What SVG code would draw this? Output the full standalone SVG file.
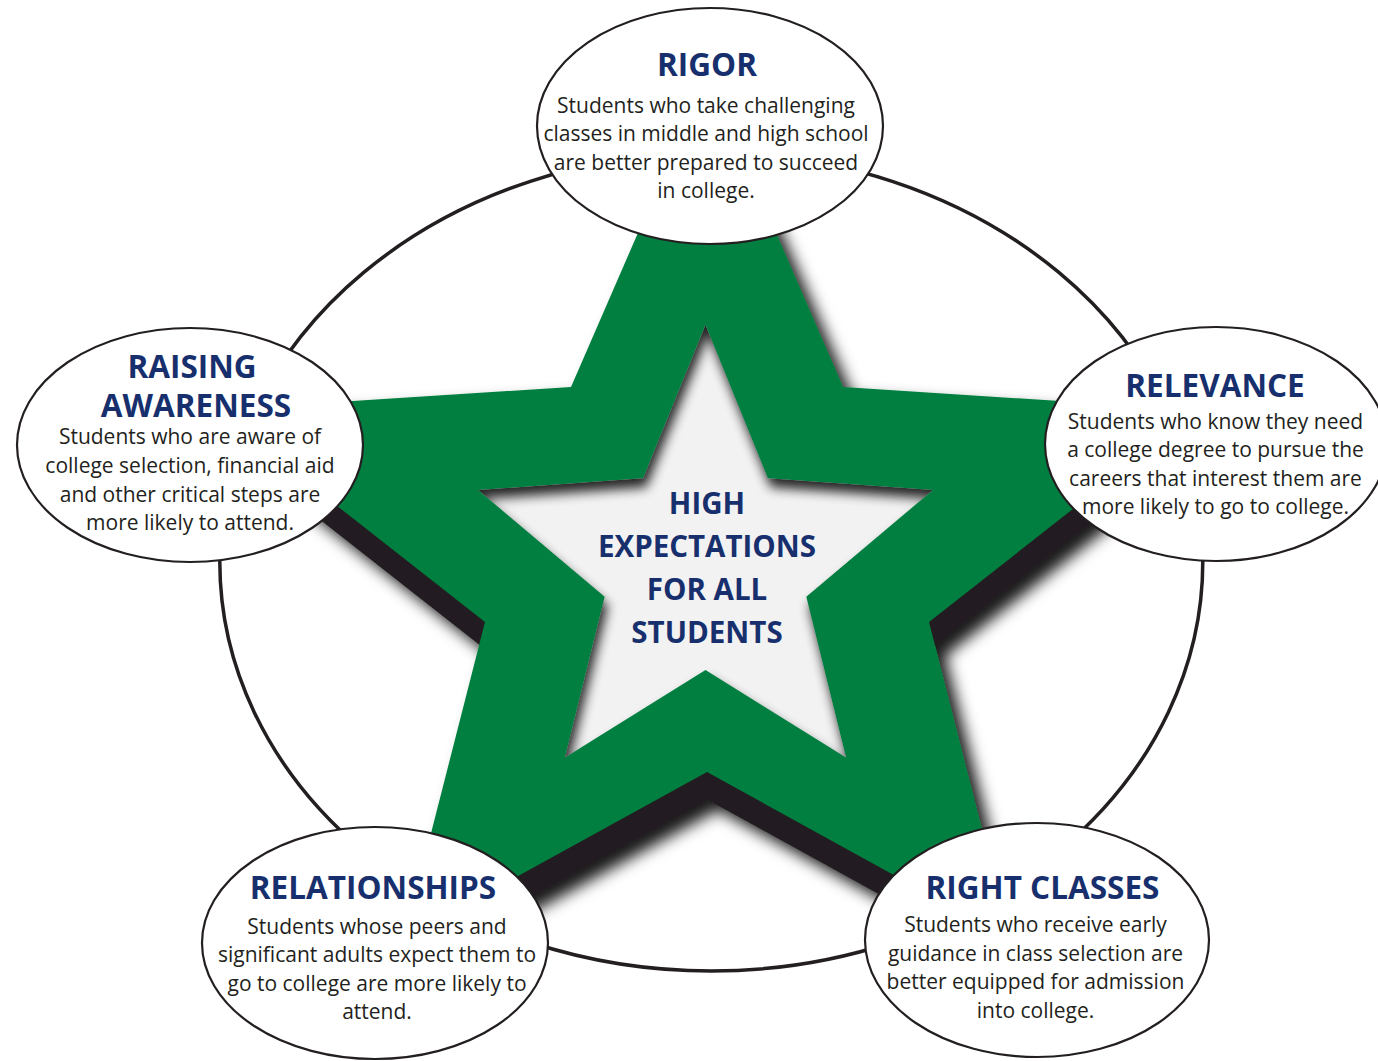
<svg xmlns="http://www.w3.org/2000/svg" width="1378" height="1061" viewBox="0 0 1378 1061">
  <style>
    .node { fill: #ffffff; stroke: #231f20; stroke-width: 2.2; }
    .ring { fill: none; stroke: #231f20; stroke-width: 3.5; }
    .title { font-family: "Open Sans", "Noto Sans", "Liberation Sans", sans-serif; font-weight: 700; font-size: 31.5px; fill: #17306d; text-anchor: middle; }
    .center { font-family: "Open Sans", "Noto Sans", "Liberation Sans", sans-serif; font-weight: 700; font-size: 29.5px; fill: #17306d; text-anchor: middle; }
    .body { font-family: "Open Sans", "Noto Sans", "Liberation Sans", sans-serif; font-size: 21px; fill: #231f20; text-anchor: middle; }
  </style>
  <defs>
    <filter id="soft" x="-10%" y="-10%" width="125%" height="125%">
      <feGaussianBlur in="SourceAlpha" stdDeviation="7.5"/>
      <feOffset dx="10" dy="10" result="b"/>
      <feFlood flood-color="#000" flood-opacity="0.9"/>
      <feComposite in2="b" operator="in"/>
      <feMerge><feMergeNode/><feMergeNode in="SourceGraphic"/></feMerge>
    </filter>
    <filter id="blur" x="-5%" y="-5%" width="110%" height="110%">
      <feGaussianBlur stdDeviation="6"/>
    </filter>
    <clipPath id="innerClip">
      <polygon points="705.5,325 767.8,478.2 932.8,490.1 806.3,596.8 846,757.4 705.5,670 565,757.4 604.7,596.8 478.2,490.1 643.2,478.2"/>
    </clipPath>
  </defs>

  <rect x="0" y="0" width="1378" height="1061" fill="#ffffff"/>

  <g id="connectors">
    <ellipse class="ring" cx="711.3" cy="561.8" rx="491.5" ry="409.2"/>
  </g>

  <g id="star">
    <g filter="url(#soft)">
      <polygon transform="translate(1,28)" fill="#231f20" points="707,74 843,387 1199,410 929,622 1010,939 707,772 404,939 485,622 215,410 571,387"/>
      <polygon fill="#007f3f" points="707,74 843,387 1199,410 929,622 1010,939 707,772 404,939 485,622 215,410 571,387"/>
    </g>
    <polygon fill="#f2f2f3" points="705.5,325 767.8,478.2 932.8,490.1 806.3,596.8 846,757.4 705.5,670 565,757.4 604.7,596.8 478.2,490.1 643.2,478.2"/>
    <g clip-path="url(#innerClip)">
      <path fill="#000" opacity="0.85" fill-rule="evenodd" filter="url(#blur)" transform="translate(3,9)" d="M300 200 H1100 V900 H300 Z M705.5,325 L767.8,478.2 L932.8,490.1 L806.3,596.8 L846,757.4 L705.5,670 L565,757.4 L604.7,596.8 L478.2,490.1 L643.2,478.2 Z"/>
    </g>
    <g id="center-label">
      <text class="center" x="707" y="514">HIGH</text>
      <text class="center" x="707" y="557">EXPECTATIONS</text>
      <text class="center" x="707" y="600">FOR ALL</text>
      <text class="center" x="707" y="643">STUDENTS</text>
    </g>
  </g>

  <g id="node-rigor">
    <ellipse class="node" cx="710" cy="126" rx="173" ry="118"/>
    <text class="title" x="707" y="76">RIGOR</text>
    <text class="body" x="706" y="112.5">Students who take challenging</text>
    <text class="body" x="706" y="141">classes in middle and high school</text>
    <text class="body" x="706" y="169.5">are better prepared to succeed</text>
    <text class="body" x="706" y="198">in college.</text>
  </g>

  <g id="node-raising-awareness">
    <ellipse class="node" cx="190" cy="445" rx="173" ry="117"/>
    <text class="title" x="192" y="378">RAISING</text>
    <text class="title" x="196" y="416.5">AWARENESS</text>
    <text class="body" x="190" y="444">Students who are aware of</text>
    <text class="body" x="190" y="473">college selection, financial aid</text>
    <text class="body" x="190" y="501.5">and other critical steps are</text>
    <text class="body" x="190" y="530">more likely to attend.</text>
  </g>

  <g id="node-relevance">
    <ellipse class="node" cx="1216" cy="444" rx="171" ry="117"/>
    <text class="title" x="1215" y="397">RELEVANCE</text>
    <text class="body" x="1215.5" y="428.5">Students who know they need</text>
    <text class="body" x="1215.5" y="457">a college degree to pursue the</text>
    <text class="body" x="1215.5" y="485.5">careers that interest them are</text>
    <text class="body" x="1215.5" y="514">more likely to go to college.</text>
  </g>

  <g id="node-relationships">
    <ellipse class="node" cx="375" cy="943" rx="173" ry="116"/>
    <text class="title" x="373" y="898.5">RELATIONSHIPS</text>
    <text class="body" x="377" y="933.5">Students whose peers and</text>
    <text class="body" x="377" y="962">significant adults expect them to</text>
    <text class="body" x="377" y="990.5">go to college are more likely to</text>
    <text class="body" x="377" y="1019">attend.</text>
  </g>

  <g id="node-right-classes">
    <ellipse class="node" cx="1037" cy="940" rx="172" ry="117"/>
    <text class="title" x="1042.5" y="898.5">RIGHT CLASSES</text>
    <text class="body" x="1035.5" y="931.5">Students who receive early</text>
    <text class="body" x="1035.5" y="960.5">guidance in class selection are</text>
    <text class="body" x="1035.5" y="989">better equipped for admission</text>
    <text class="body" x="1035.5" y="1017.5">into college.</text>
  </g>
</svg>
